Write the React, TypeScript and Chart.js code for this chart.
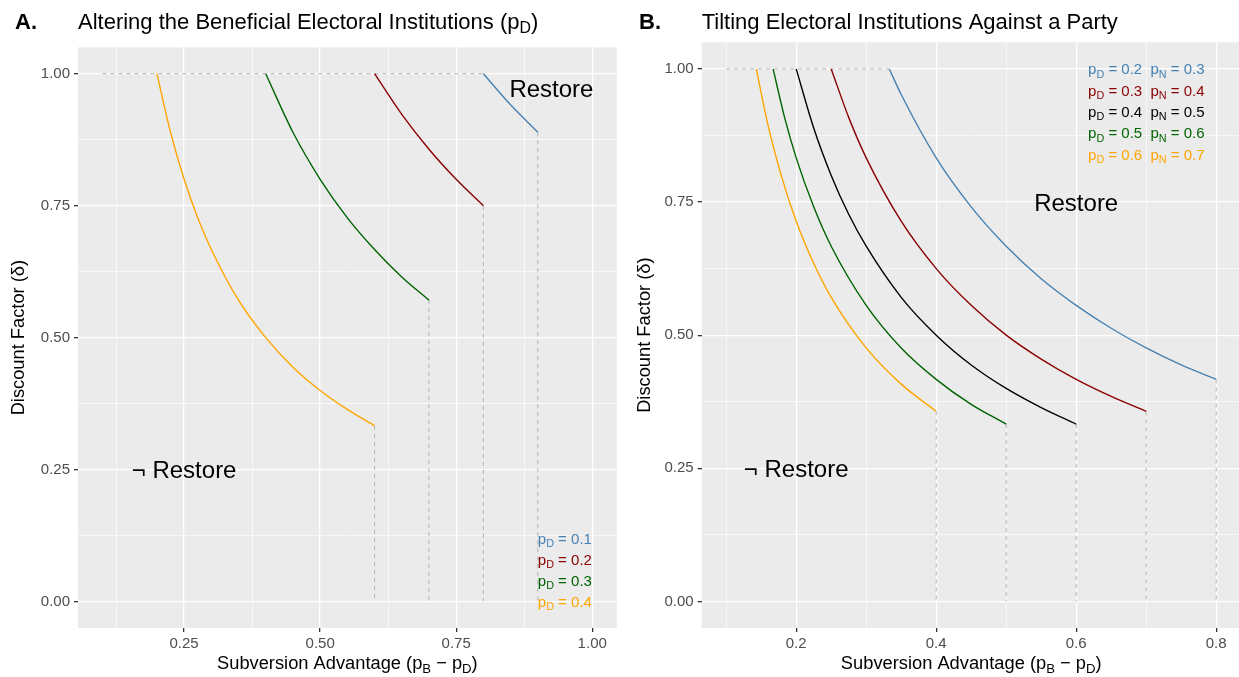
import React, { useEffect, useRef } from 'react';
import { Chart, registerables } from 'chart.js';
Chart.register(...registerables);

const FONT = '"Liberation Sans", Arial, Helvetica, sans-serif';

// ---------- Panel A data ----------
const A_X_01 = [0.8, 0.85, 0.9];
const A_Y_01 = [1.0, 0.941, 0.889];
const A_X_02 = [0.6, 0.65, 0.7, 0.75, 0.8];
const A_Y_02 = [1.0, 0.923, 0.857, 0.8, 0.75];
const A_X_03 = [0.4, 0.45, 0.5, 0.55, 0.6, 0.65, 0.7];
const A_Y_03 = [1.0, 0.889, 0.8, 0.727, 0.667, 0.615, 0.571];
const A_X_04 = [0.2, 0.225, 0.25, 0.275, 0.3, 0.35, 0.4, 0.45, 0.5, 0.55, 0.6];
const A_Y_04 = [1.0, 0.889, 0.8, 0.727, 0.667, 0.571, 0.5, 0.444, 0.4, 0.364, 0.333];
const A_PD_LABELS = ['0.1', '0.2', '0.3', '0.4'];
const A_LEGEND_Y = [0.12, 0.08, 0.04, 0.0];
const A_LEGEND_X = 0.9;
const A_X_TICKS = [0.125, 0.25, 0.375, 0.5, 0.625, 0.75, 0.875, 1.0];
const A_X_MAJOR = [0.25, 0.5, 0.75, 1.0];
const A_X_LABELS = ['0.25', '0.50', '0.75', '1.00'];

// ---------- Panel B data ----------
const B_X_02 = [0.333, 0.35, 0.4, 0.45, 0.5, 0.55, 0.6, 0.65, 0.7, 0.75, 0.8];
const B_Y_02 = [1.0, 0.952, 0.833, 0.741, 0.667, 0.606, 0.556, 0.513, 0.476, 0.444, 0.417];
const B_X_03 = [0.25, 0.275, 0.3, 0.35, 0.4, 0.45, 0.5, 0.55, 0.6, 0.65, 0.7];
const B_Y_03 = [1.0, 0.909, 0.833, 0.714, 0.625, 0.556, 0.5, 0.455, 0.417, 0.385, 0.357];
const B_X_04 = [0.2, 0.225, 0.25, 0.275, 0.3, 0.35, 0.4, 0.45, 0.5, 0.55, 0.6];
const B_Y_04 = [1.0, 0.889, 0.8, 0.727, 0.667, 0.571, 0.5, 0.444, 0.4, 0.364, 0.333];
const B_X_05 = [0.167, 0.183, 0.2, 0.225, 0.25, 0.3, 0.35, 0.4, 0.45, 0.5];
const B_Y_05 = [1.0, 0.911, 0.833, 0.741, 0.667, 0.556, 0.476, 0.417, 0.37, 0.333];
const B_X_06 = [0.143, 0.16, 0.18, 0.2, 0.225, 0.25, 0.3, 0.35, 0.4];
const B_Y_06 = [1.0, 0.893, 0.794, 0.714, 0.635, 0.571, 0.476, 0.408, 0.357];
const B_PD_LABELS = ['0.2', '0.3', '0.4', '0.5', '0.6'];
const B_PN_LABELS = ['0.3', '0.4', '0.5', '0.6', '0.7'];
const B_LEGEND_Y = [1.0, 0.96, 0.92, 0.88, 0.84];
const B_LEGEND_X = 0.617;
const B_X_TICKS = [0.1, 0.2, 0.3, 0.4, 0.5, 0.6, 0.7, 0.8];
const B_X_MAJOR = [0.2, 0.4, 0.6, 0.8];
const B_X_LABELS = ['0.2', '0.4', '0.6', '0.8'];

// ---------- shared ----------
const Y_TICKS = [0, 0.125, 0.25, 0.375, 0.5, 0.625, 0.75, 0.875, 1.0];
const Y_MAJOR = [0, 0.25, 0.5, 0.75, 1.0];
const Y_LABELS = ['0.00', '0.25', '0.50', '0.75', '1.00'];
const DASH_START_X = 0.1;

const C_BLUE = '#4682B4';
const C_RED = '#8B0000';
const C_GREEN = '#006400';
const C_ORANGE = '#FFA500';
const C_BLACK = '#000000';
const C_DASH = '#B3B3B3';

type Seg = { t: string; sub?: boolean };

function drawRich(ctx: CanvasRenderingContext2D, segs: Seg[], x: number, y: number, size: number, color: string, align: 'left' | 'center', weight = 'normal') {
  const fontFor = (s: Seg) => `${weight} ${s.sub ? size * 0.72 : size}px ${FONT}`;
  let w = 0;
  for (const s of segs) { ctx.font = fontFor(s); w += ctx.measureText(s.t).width; }
  let cx = align === 'center' ? x - w / 2 : x;
  ctx.save();
  ctx.fillStyle = color;
  ctx.textAlign = 'left';
  ctx.textBaseline = 'alphabetic';
  for (const s of segs) {
    ctx.font = fontFor(s);
    ctx.fillText(s.t, cx, s.sub ? y + size * 0.22 : y);
    cx += ctx.measureText(s.t).width;
  }
  ctx.restore();
}

const near = (a: number, list: number[]) => list.some((b) => Math.abs(a - b) < 1e-6);
const pts = (xs: number[], ys: number[]) => xs.map((x, i) => ({ x, y: ys[i] }));

interface Curve { xs: number[]; ys: number[]; color: string }
interface Note { segs: Seg[]; x: number; y: number; size: number; color: string; align: 'left' | 'center' }
interface PanelDef {
  curves: Curve[];
  xMin: number; xMax: number;
  xTicks: number[]; xMajor: number[]; xLabels: string[];
  letter: string; letterX: number;
  title: Seg[];
  notes: Note[];
  area: { left: number; right: number; top: number; bottom: number };
  canvasW: number; canvasH: number;
  yTitlePad: number;
}

function buildConfig(p: PanelDef): any {
  const curveSets = p.curves.map((c) => ({
    data: pts(c.xs, c.ys), borderColor: c.color, borderWidth: 1.4,
    pointRadius: 0, cubicInterpolationMode: 'monotone', fill: false, order: 0,
  }));
  const dashSets: any[] = [];
  const hEnd = Math.max(...p.curves.map((c) => c.xs[0]));
  dashSets.push({
    data: [{ x: DASH_START_X, y: 1 }, { x: hEnd, y: 1 }], borderColor: C_DASH, borderWidth: 1,
    borderDash: [4, 4], pointRadius: 0, fill: false, order: 1,
  });
  for (const c of p.curves) {
    const lx = c.xs[c.xs.length - 1];
    const ly = c.ys[c.ys.length - 1];
    dashSets.push({
      data: [{ x: lx, y: ly }, { x: lx, y: 0 }], borderColor: C_DASH, borderWidth: 1,
      borderDash: [4, 4], pointRadius: 0, fill: false, order: 1,
    });
  }

  const deco = {
    id: 'deco',
    beforeDraw(chart: any) {
      const { ctx, chartArea: a } = chart;
      ctx.save();
      ctx.fillStyle = '#EBEBEB';
      ctx.fillRect(a.left, a.top, a.right - a.left, a.bottom - a.top);
      ctx.restore();
    },
    afterDraw(chart: any) {
      const { ctx, chartArea: a, scales } = chart;
      const xs = scales.x, ys = scales.y;
      // panel titles
      drawRich(ctx, [{ t: p.letter }], p.letterX, 28.5, 22, '#000', 'left', 'bold');
      drawRich(ctx, p.title, a.left, 28.5, 22, '#000', 'left');
      // x axis title
      drawRich(ctx, [{ t: 'Subversion Advantage (p' }, { t: 'B', sub: true }, { t: ' \u2212 p' }, { t: 'D', sub: true }, { t: ')' }],
        (a.left + a.right) / 2, 669, 18.3, '#000', 'center');
      // annotations and in-panel legend
      for (const n of p.notes) {
        const px = xs.getPixelForValue(n.x);
        const py = ys.getPixelForValue(n.y) + n.size * 0.36;
        drawRich(ctx, n.segs, px, py, n.size, n.color, n.align);
      }
    },
  };

  const yIsMajor = (v: number) => near(v, Y_MAJOR);
  const xIsMajor = (v: number) => near(v, p.xMajor);

  return {
    type: 'line',
    data: { datasets: [...curveSets, ...dashSets] },
    options: {
      animation: false,
      responsive: false,
      maintainAspectRatio: false,
      events: [],
      layout: {
        padding: { left: 0, top: p.area.top, right: p.canvasW - p.area.right, bottom: 0 },
      },
      plugins: { legend: { display: false }, tooltip: { enabled: false }, title: { display: false } },
      scales: {
        x: {
          type: 'linear', min: p.xMin, max: p.xMax,
          afterBuildTicks: (s: any) => { s.ticks = p.xTicks.map((v) => ({ value: v })); },
          afterFit: (s: any) => { s.height = p.canvasH - p.area.bottom; },
          ticks: {
            autoSkip: false, maxRotation: 0, minRotation: 0, padding: 3,
            color: '#4D4D4D', font: { family: FONT, size: 15 },
            callback: (v: number) => { const i = p.xMajor.findIndex((m) => Math.abs(m - v) < 1e-6); return i >= 0 ? p.xLabels[i] : ''; },
          },
          grid: {
            color: '#FFFFFF',
            lineWidth: (c: any) => (c.tick && xIsMajor(c.tick.value) ? 1.3 : 0.65),
            tickColor: (c: any) => (c.tick && xIsMajor(c.tick.value) ? '#333333' : 'rgba(0,0,0,0)'),
            tickWidth: 1.3, tickLength: 4, drawTicks: true,
          },
          border: { display: false },
        },
        y: {
          type: 'linear', min: -0.05, max: 1.05,
          afterBuildTicks: (s: any) => { s.ticks = Y_TICKS.map((v) => ({ value: v })); },
          afterFit: (s: any) => { s.width = p.area.left; },
          ticks: {
            autoSkip: false, padding: 4,
            color: '#4D4D4D', font: { family: FONT, size: 15 },
            callback: (v: number) => { const i = Y_MAJOR.findIndex((m) => Math.abs(m - v) < 1e-6); return i >= 0 ? Y_LABELS[i] : ''; },
          },
          grid: {
            color: '#FFFFFF',
            lineWidth: (c: any) => (c.tick && yIsMajor(c.tick.value) ? 1.3 : 0.65),
            tickColor: (c: any) => (c.tick && yIsMajor(c.tick.value) ? '#333333' : 'rgba(0,0,0,0)'),
            tickWidth: 1.3, tickLength: 4, drawTicks: true,
          },
          border: { display: false },
          title: {
            display: true, text: 'Discount Factor (\u03B4)', color: '#000',
            font: { family: FONT, size: 18.3 }, padding: { top: p.yTitlePad, bottom: 0 },
          },
        },
      },
    },
    plugins: [deco],
  };
}

const A_COLORS = [C_BLUE, C_RED, C_GREEN, C_ORANGE];
const B_COLORS = [C_BLUE, C_RED, C_BLACK, C_GREEN, C_ORANGE];

const PANEL_A: PanelDef = {
  curves: [
    { xs: A_X_01, ys: A_Y_01, color: C_BLUE },
    { xs: A_X_02, ys: A_Y_02, color: C_RED },
    { xs: A_X_03, ys: A_Y_03, color: C_GREEN },
    { xs: A_X_04, ys: A_Y_04, color: C_ORANGE },
  ],
  xMin: 0.055, xMax: 1.045,
  xTicks: A_X_TICKS, xMajor: A_X_MAJOR, xLabels: A_X_LABELS,
  letter: 'A.', letterX: 15,
  title: [{ t: 'Altering the Beneficial Electoral Institutions (p' }, { t: 'D', sub: true }, { t: ')' }],
  notes: [
    { segs: [{ t: 'Restore' }], x: 0.925, y: 0.973, size: 24, color: '#000', align: 'center' },
    { segs: [{ t: '\u00AC Restore' }], x: 0.25, y: 0.25, size: 24, color: '#000', align: 'center' },
    ...A_PD_LABELS.map((l, i) => ({
      segs: [{ t: 'p' }, { t: 'D', sub: true }, { t: ' = ' + l }], x: A_LEGEND_X, y: A_LEGEND_Y[i],
      size: 15, color: A_COLORS[i], align: 'left' as const,
    })),
  ],
  area: { left: 78, right: 616.7, top: 47.3, bottom: 628 },
  canvasW: 620, canvasH: 677,
  yTitlePad: 8,
};

const PANEL_B: PanelDef = {
  curves: [
    { xs: B_X_02, ys: B_Y_02, color: C_BLUE },
    { xs: B_X_03, ys: B_Y_03, color: C_RED },
    { xs: B_X_04, ys: B_Y_04, color: C_BLACK },
    { xs: B_X_05, ys: B_Y_05, color: C_GREEN },
    { xs: B_X_06, ys: B_Y_06, color: C_ORANGE },
  ],
  xMin: 0.065, xMax: 0.835,
  xTicks: B_X_TICKS, xMajor: B_X_MAJOR, xLabels: B_X_LABELS,
  letter: 'B.', letterX: 19,
  title: [{ t: 'Tilting Electoral Institutions Against a Party' }],
  notes: [
    { segs: [{ t: 'Restore' }], x: 0.6, y: 0.75, size: 24, color: '#000', align: 'center' },
    { segs: [{ t: '\u00AC Restore' }], x: 0.2, y: 0.25, size: 24, color: '#000', align: 'center' },
    ...B_PD_LABELS.map((l, i) => ({
      segs: [{ t: 'p' }, { t: 'D', sub: true }, { t: ' = ' + l + '  p' }, { t: 'N', sub: true }, { t: ' = ' + B_PN_LABELS[i] }],
      x: B_LEGEND_X, y: B_LEGEND_Y[i], size: 15, color: B_COLORS[i], align: 'left' as const,
    })),
  ],
  area: { left: 81.7, right: 620.7, top: 42.3, bottom: 628 },
  canvasW: 625, canvasH: 677,
  yTitlePad: 14,
};

export default function App() {
  const refA = useRef<HTMLCanvasElement>(null);
  const refB = useRef<HTMLCanvasElement>(null);
  useEffect(() => {
    const a = new Chart(refA.current as HTMLCanvasElement, buildConfig(PANEL_A));
    const b = new Chart(refB.current as HTMLCanvasElement, buildConfig(PANEL_B));
    return () => { a.destroy(); b.destroy(); };
  }, []);
  return (
    <div style={{ position: 'fixed', left: 0, top: 0, width: 1239, height: 677, background: '#fff', overflow: 'hidden' }}>
      <div style={{ position: 'absolute', left: 0, top: 0, width: 620, height: 677, overflow: 'hidden' }}>
        <canvas ref={refA} width={620} height={677} style={{ width: 620, height: 677, display: 'block' }} />
      </div>
      <div style={{ position: 'absolute', left: 620, top: 0, width: 619, height: 677, overflow: 'hidden' }}>
        <canvas ref={refB} width={625} height={677} style={{ width: 625, height: 677, display: 'block' }} />
      </div>
    </div>
  );
}
